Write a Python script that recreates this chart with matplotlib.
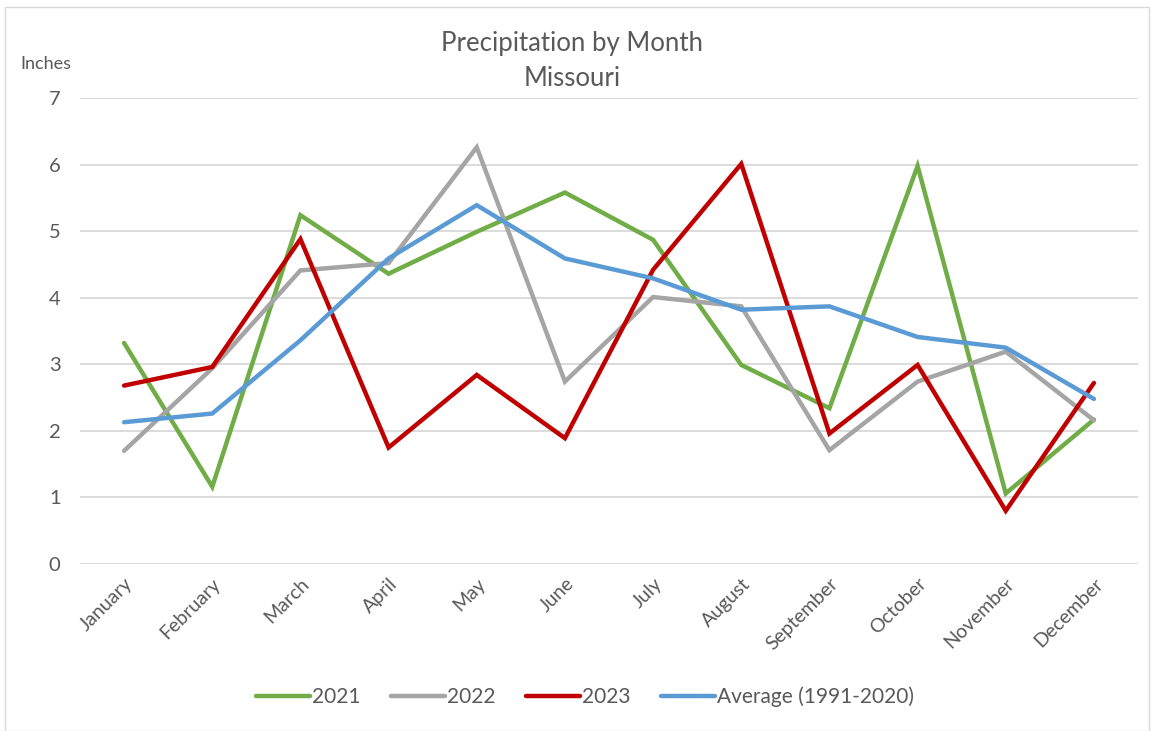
import matplotlib.pyplot as plt
from matplotlib.patches import Rectangle

months = ['January', 'February', 'March', 'April', 'May', 'June', 'July',
          'August', 'September', 'October', 'November', 'December']
y2021 = [3.32, 1.16, 5.24, 4.36, 4.99, 5.58, 4.87, 2.99, 2.34, 5.98, 1.06, 2.17]
y2022 = [1.70, 2.94, 4.41, 4.52, 6.26, 2.74, 4.01, 3.87, 1.71, 2.74, 3.19, 2.16]
y2023 = [2.68, 2.96, 4.88, 1.75, 2.84, 1.89, 4.42, 6.01, 1.96, 2.99, 0.80, 2.72]
avg = [2.13, 2.26, 3.36, 4.59, 5.39, 4.59, 4.29, 3.82, 3.87, 3.41, 3.25, 2.48]

series = [('2021', y2021, '#70AD47'),
          ('2022', y2022, '#A5A5A5'),
          ('2023', y2023, '#C00000'),
          ('Average (1991-2020)', avg, '#5B9BD5')]

plt.rcParams['font.family'] = ['Lato', 'DejaVu Sans']
txt = '#595959'

fig = plt.figure(figsize=(11.54, 7.31), dpi=100)
fig.patches.append(Rectangle((5 / 1154, 0), 1144 / 1154, 724 / 731, transform=fig.transFigure,
                             fill=False, edgecolor='#D9D9D9', linewidth=1))
ax = fig.add_axes([80 / 1154, 1 - 564 / 731, 1058 / 1154, 466 / 731])

x = list(range(len(months)))
for name, vals, col in series:
    ax.plot(x, vals, color=col, linewidth=3.2, label=name, solid_capstyle='round', solid_joinstyle='miter')

ax.set_xlim(-0.5, 11.5)
ax.set_ylim(0, 7)
ax.set_yticks(range(8))
ax.yaxis.grid(True, color='#D9D9D9', linewidth=1.3)
ax.set_axisbelow(True)
for s in ax.spines.values():
    s.set_visible(False)
ax.tick_params(length=0, colors=txt)
ax.tick_params(axis='y', labelsize=14.5, pad=14)
ax.set_xticks(x)
ax.set_xticklabels(months, rotation=45, ha='right', rotation_mode='anchor')
ax.tick_params(axis='x', labelsize=14, pad=8)

fig.text(572 / 1154, 1 - 44 / 731, 'Precipitation by Month', ha='center', va='center', fontsize=18.5, color=txt)
fig.text(572 / 1154, 1 - 78 / 731, 'Missouri', ha='center', va='center', fontsize=18.5, color=txt)
fig.text(20 / 1154, 1 - 64 / 731, 'Inches', ha='left', va='center', fontsize=13, color=txt)

fig.legend(loc='center', bbox_to_anchor=(585 / 1154, 1 - 697 / 731), ncol=4, frameon=False,
           fontsize=15, labelcolor=txt, handlelength=2.6, handletextpad=0.1, columnspacing=1.45)

plt.savefig('out.png', dpi=100)
